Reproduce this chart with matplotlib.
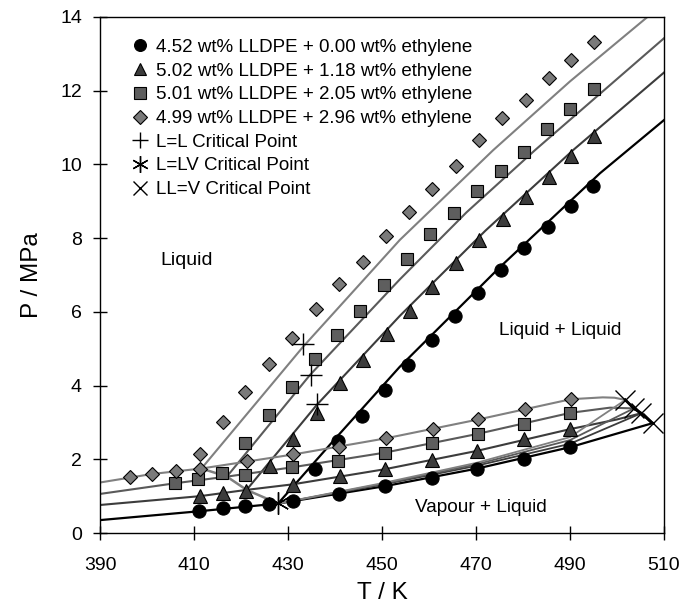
import matplotlib
matplotlib.use("Agg")
import matplotlib.pyplot as plt
from matplotlib.lines import Line2D

plt.rcParams['font.family'] = ['Liberation Sans', 'DejaVu Sans']

# ---------------- data ----------------
labels = ["4.52 wt% LLDPE + 0.00 wt% ethylene",
          "5.02 wt% LLDPE + 1.18 wt% ethylene",
          "5.01 wt% LLDPE + 2.05 wt% ethylene",
          "4.99 wt% LLDPE + 2.96 wt% ethylene"]

# series 1: circles
c_T = [411.1, 416.1, 420.9, 426.0, 431.0, 440.9, 450.6, 460.6, 470.3, 480.3, 490.1,
       435.7, 440.7, 445.7, 450.6, 455.6, 460.6, 465.5, 470.4, 475.3, 480.3, 485.3, 490.2, 495.0]
c_P = [0.60, 0.67, 0.74, 0.80, 0.88, 1.05, 1.27, 1.48, 1.75, 2.02, 2.33,
       1.73, 2.50, 3.17, 3.88, 4.56, 5.24, 5.90, 6.52, 7.13, 7.72, 8.31, 8.87, 9.41]
# series 2: triangles
t_T = [411.3, 416.1, 421.1, 431.0, 441.1, 450.6, 460.6, 470.3, 480.3, 490.1,
       426.2, 431.0, 436.1, 441.1, 446.0, 451.0, 456.0, 460.7, 465.7, 470.7, 475.7, 480.6, 485.5, 490.2, 495.1]
t_P = [1.01, 1.08, 1.15, 1.30, 1.55, 1.73, 1.98, 2.23, 2.54, 2.82,
       1.82, 2.54, 3.25, 4.06, 4.69, 5.39, 6.03, 6.68, 7.33, 7.95, 8.52, 9.12, 9.67, 10.23, 10.78]
# series 3: squares
s_T = [406.0, 410.9, 415.9, 420.9, 430.8, 440.7, 450.6, 460.6, 470.4, 480.3, 490.1,
       420.9, 426.0, 430.8, 435.7, 440.5, 445.4, 450.4, 455.4, 460.3, 465.3, 470.3, 475.3, 480.2, 485.2, 490.1, 495.1]
s_P = [1.35, 1.46, 1.64, 1.57, 1.78, 1.96, 2.18, 2.43, 2.69, 2.96, 3.26,
       2.45, 3.20, 3.95, 4.71, 5.37, 6.02, 6.73, 7.43, 8.11, 8.69, 9.28, 9.83, 10.35, 10.96, 11.50, 12.04]
# series 4: diamonds
d_T = [396.4, 401.0, 406.2, 411.3, 421.3, 431.1, 440.9, 450.9, 460.8, 470.5, 480.4, 490.2,
       411.3, 416.1, 420.9, 426.0, 430.9, 435.9, 440.9, 445.9, 450.8, 455.8, 460.7, 465.7, 470.6, 475.6, 480.6, 485.5, 490.3, 495.2]
d_P = [1.51, 1.60, 1.69, 1.75, 1.95, 2.13, 2.34, 2.57, 2.82, 3.08, 3.36, 3.63,
       2.13, 3.02, 3.83, 4.58, 5.30, 6.07, 6.76, 7.36, 8.07, 8.72, 9.33, 9.97, 10.66, 11.25, 11.75, 12.35, 12.83, 13.31]

# model curves: liquid-liquid boundaries
ll_T = [[427.9, 440.0, 453.8, 475.0, 496.4, 510.0],
        [421.2, 436.1, 453.8, 472.0, 490.7, 510.0],
        [417.0, 434.7, 453.8, 468.0, 482.6, 510.0],
        [411.6, 433.2, 453.8, 473.7, 490.0, 506.5]]
ll_P = [[0.80, 2.55, 4.51, 7.20, 9.76, 11.20],
        [1.17, 3.47, 5.89, 8.20, 10.39, 12.49],
        [1.53, 4.29, 6.88, 8.70, 10.39, 13.42],
        [1.75, 5.05, 7.95, 10.39, 12.25, 14.00]]
# vapour-liquid (left part, to the three-phase point)
vl_T = [[390.0, 411.1, 427.9],
        [390.0, 411.3, 421.2],
        [390.0, 406.0, 417.0],
        [390.0, 401.0, 411.6]]
vl_P = [[0.35, 0.59, 0.80],
        [0.76, 1.00, 1.17],
        [1.06, 1.35, 1.53],
        [1.37, 1.60, 1.75]]
# upper branch of the VL loop (three-phase point -> LL=V critical point)
up_T = [[427.9, 450.6, 470.3, 490.1, 507.6],
        [421.2, 431.0, 450.6, 470.3, 490.1, 500.0, 505.2],
        [417.0, 430.8, 450.6, 470.4, 490.1, 498.5, 503.6],
        [411.6, 431.1, 450.9, 470.5, 490.2, 497.0, 499.5, 501.8]]
up_P = [[0.80, 1.27, 1.75, 2.33, 2.98],
        [1.17, 1.32, 1.73, 2.23, 2.82, 3.08, 3.25],
        [1.53, 1.78, 2.18, 2.69, 3.26, 3.40, 3.38],
        [1.75, 2.13, 2.57, 3.08, 3.63, 3.68, 3.67, 3.61]]
# lower branch of the VL loop (L=LV point -> LL=V critical point)
lo_T = [[427.9, 450.0, 470.0, 490.0, 505.2],
        [427.9, 450.0, 470.0, 490.0, 503.6],
        [427.9, 450.0, 470.0, 490.0, 501.8]]
lo_P = [[0.80, 1.31, 1.82, 2.42, 3.25],
        [0.80, 1.33, 1.86, 2.52, 3.38],
        [0.80, 1.35, 1.90, 2.60, 3.61]]
# three-phase (LLV) line
llv_T = [411.6, 417.0, 421.2, 427.9]
llv_P = [1.75, 1.53, 1.17, 0.80]

# critical points
llc_T = [436.1, 434.8, 433.1]
llc_P = [3.50, 4.29, 5.12]
llv_cT = [427.9]
llv_cP = [0.82]
llvc_T = [501.8, 503.6, 505.2, 507.6]
llvc_P = [3.61, 3.38, 3.25, 2.98]

# ---------------- styling ----------------
line_cols = ['#000000', '#3c3c3c', '#5a5a5a', '#808080']
face_cols = ['#000000', '#3c3c3c', '#5e5e5e', '#7a7a7a']
markers = ['o', '^', 's', 'D']
msizes = [9.5, 9.5, 9.0, 7.5]

fig = plt.figure(figsize=(6.83, 6.13), dpi=100)
ax = fig.add_axes([0.1464, 0.1305, 0.8256, 0.8418])

# lines
for i in range(4):
    lw = 1.6 if i == 0 else 1.5
    ax.plot(ll_T[i], ll_P[i], color=line_cols[i], lw=lw, zorder=2)
    ax.plot(vl_T[i], vl_P[i], color=line_cols[i], lw=lw, zorder=2)
    ax.plot(up_T[i], up_P[i], color=line_cols[i], lw=lw, zorder=2)
for j in range(3):
    ax.plot(lo_T[j], lo_P[j], color=line_cols[j + 1], lw=1.3, zorder=2)
ax.plot(llv_T, llv_P, color='#808080', lw=1.8, zorder=2)
ax.plot(llvc_T, llvc_P, color='black', lw=2.0, zorder=3)

# data markers
data = [(c_T, c_P), (t_T, t_P), (s_T, s_P), (d_T, d_P)]
for i, (T, P) in enumerate(data):
    ax.plot(T, P, linestyle='none', marker=markers[i], ms=msizes[i],
            mfc=face_cols[i], mec='black', mew=0.8, zorder=4)

ax.plot(llc_T, llc_P, linestyle='none', marker='+', ms=16, mew=1.0, color='black', zorder=5)
ax.plot(llv_cT, llv_cP, linestyle='none', marker=(6, 2, 0), ms=16, mew=1.0, color='black', zorder=5)
ax.plot(llvc_T, llvc_P, linestyle='none', marker='x', ms=14, mew=1.0, color='black', zorder=5)

# region labels
ax.text(408.5, 7.4, "Liquid", fontsize=14, ha='center', va='center')
ax.text(488.0, 5.5, "Liquid + Liquid", fontsize=13.7, ha='center', va='center')
ax.text(471.0, 0.7, "Vapour + Liquid", fontsize=13.7, ha='center', va='center')

# legend
handles = [Line2D([], [], linestyle='none', marker=markers[i], ms=msizes[i] * 0.9,
                  mfc=face_cols[i], mec='black', mew=0.8) for i in range(4)]
handles += [Line2D([], [], linestyle='none', marker='+', ms=12, mew=1.0, color='black'),
            Line2D([], [], linestyle='none', marker=(6, 2, 0), ms=12, mew=1.0, color='black'),
            Line2D([], [], linestyle='none', marker='x', ms=10, mew=1.0, color='black')]
leg_labels = labels + ["L=L Critical Point", "L=LV Critical Point", "LL=V Critical Point"]
ax.legend(handles, leg_labels, loc='upper left', bbox_to_anchor=(0.045, 0.972),
          frameon=False, fontsize=13.5, handlelength=0.8, handletextpad=0.45,
          labelspacing=0.35, borderaxespad=0.0)

ax.set_xlim(390, 510)
ax.set_ylim(0, 14)
ax.set_xticks([390, 410, 430, 450, 470, 490, 510])
ax.set_yticks([0, 2, 4, 6, 8, 10, 12, 14])
ax.tick_params(direction='inout', length=10, width=1.0, labelsize=14, pad=8,
               top=False, right=False)
ax.tick_params(axis='x', pad=12)
for sp in ax.spines.values():
    sp.set_linewidth(1.0)
ax.set_xlabel("T / K", fontsize=17.5, labelpad=6)
ax.set_ylabel("P / MPa", fontsize=17.5, labelpad=12)

fig.savefig("out.png", dpi=100)
